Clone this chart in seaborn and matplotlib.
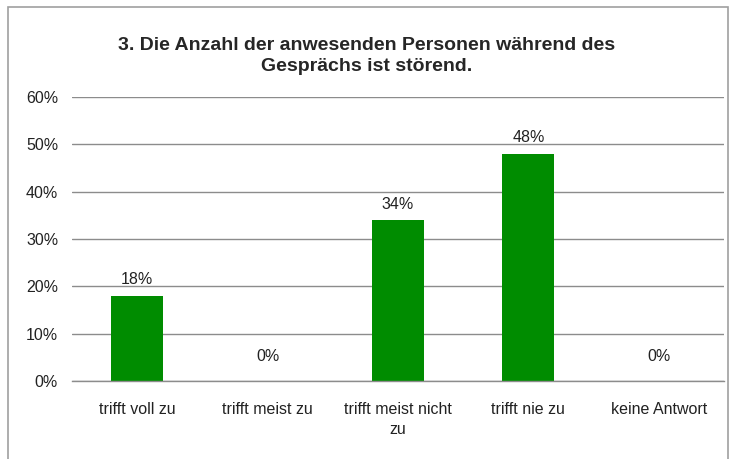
import matplotlib
matplotlib.use("Agg")
import matplotlib.pyplot as plt
import seaborn as sns
import pandas as pd
from matplotlib.patches import Rectangle

# Chart data
categories = ["trifft voll zu", "trifft meist zu", "trifft meist nicht\nzu",
              "trifft nie zu", "keine Antwort"]
values = [18, 0, 34, 48, 0]
y_ticks = [0, 10, 20, 30, 40, 50, 60]
title = "3. Die Anzahl der anwesenden Personen während des\nGesprächs ist störend."

df = pd.DataFrame({"Kategorie": categories, "Anteil": values})

sns.set_style("white")
plt.rcParams["font.family"] = ["Liberation Sans Narrow", "Liberation Sans", "DejaVu Sans"]

fig = plt.figure(figsize=(7.33, 4.59), dpi=100)
ax = fig.add_axes([72 / 733, 1 - 381 / 459, (724 - 72) / 733, (381 - 97) / 459])

sns.barplot(data=df, x="Kategorie", y="Anteil", color="#008C00", width=0.4,
            saturation=1, linewidth=0, ax=ax)

ax.set_ylim(0, 60)
ax.set_xlim(-0.5, len(categories) - 0.5)
ax.set_yticks(y_ticks)
ax.set_yticklabels([f"{t}%" for t in y_ticks], fontsize=11.5, color="#222222")
ax.tick_params(axis="x", labelsize=11.5, colors="#222222", length=0, pad=15,
               labelrotation=0)
for lbl in ax.get_xticklabels():
    lbl.set_linespacing(1.45)
ax.tick_params(axis="y", length=0, pad=10)
ax.set_xlabel("")
ax.set_ylabel("")
ax.grid(axis="y", color="#8c8c8c", linewidth=1)
ax.set_axisbelow(True)
for side in ["left", "right", "top"]:
    ax.spines[side].set_visible(False)
ax.spines["bottom"].set_color("#8c8c8c")
ax.spines["bottom"].set_linewidth(1)

# value labels
for i, v in enumerate(values):
    off = 6 if v > 0 else 12
    ax.annotate(f"{v}%", (i, v), xytext=(0, off), textcoords="offset points",
                ha="center", va="bottom", fontsize=11.5, color="#222222")

fig.text(0.5, 1 - 56 / 459, title, ha="center", va="center", fontsize=14,
         fontweight="bold", linespacing=1.3)

# outer frame
fig.patches.append(Rectangle((8 / 733, -0.05), (728 - 8) / 733, 1.05 - 7 / 459,
                             transform=fig.transFigure, fill=False,
                             edgecolor="#a0a0a0", linewidth=1.2))

fig.savefig("out.png", dpi=100)
